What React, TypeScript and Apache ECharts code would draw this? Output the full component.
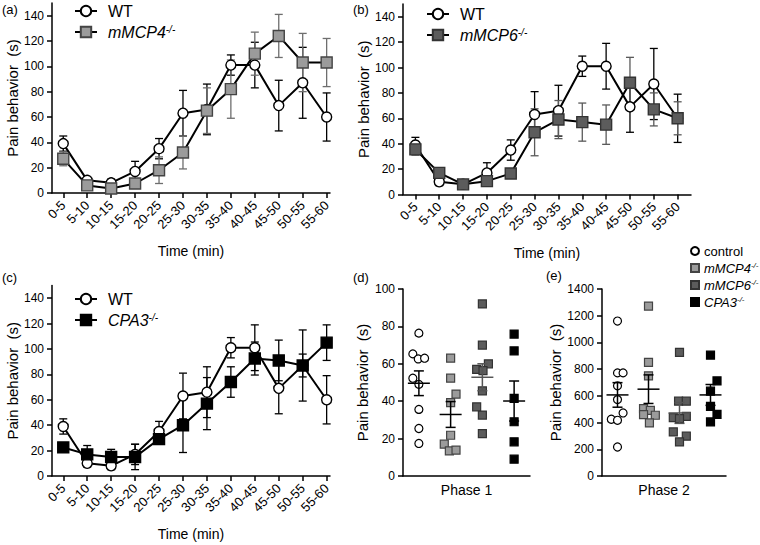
import React, { useEffect, useRef } from "react";
import * as echarts from "echarts";

const FONT = '"Liberation Sans", Arial, Helvetica, sans-serif';

// ---------- time course (panels a, b, c) ----------
const timeLabels = ["0-5", "5-10", "10-15", "15-20", "20-25", "25-30", "30-35", "35-40", "40-45", "45-50", "50-55", "55-60"];
const wtMean = [39, 10, 8, 17, 35, 63, 66, 101, 101, 69, 87, 60];
const wtSem = [6, 3, 3, 8, 8, 18, 20, 8, 18, 20, 28, 19];
const mmcp4Mean = [27, 6, 3.5, 7.5, 18, 32, 65, 82, 110, 124, 103, 103];
const mmcp4Sem = [5.5, 3, 3, 3, 10.5, 13, 18, 23, 17, 17, 23, 19];
const mmcp6Mean = [35.5, 17, 8, 10.5, 16.5, 49, 59, 57, 55, 88, 67, 60];
const mmcp6Sem = [4.5, 3, 2, 2, 2.5, 18.5, 15, 15, 15.5, 20, 13, 13];
const cpa3Mean = [22.5, 17, 15, 15, 29, 40, 57, 74, 92.5, 91, 87, 105];
const cpa3Sem = [3.5, 7, 6, 10, 3, 21.5, 20.5, 12, 13, 16, 9, 14];
const timeYTicks = [0, 20, 40, 60, 80, 100, 120, 140];

// ---------- phase scatter (panels d, e) ----------
const groups = ["control", "mMCP4", "mMCP6", "CPA3"];
const controlP1 = [76.4, 65.3, 62.6, 63, 52.3, 49, 35.6, 25.4, 17.4];
const controlP1Jit = [0, -0.19, -0.02, 0.18, -0.19, 0, 0, 0, 0];
const mmcp4P1 = [63, 52.3, 43.8, 39.2, 21.8, 17, 13.4, 13.8];
const mmcp4P1Jit = [0, 0, 0.17, 0, 0, -0.2, -0.04, 0.17];
const mmcp6P1 = [92, 70, 60, 57, 56.4, 45.5, 37, 32.6, 22.7];
const mmcp6P1Jit = [0, 0, 0.19, -0.18, 0.02, 0, -0.18, 0, 0];
const cpa3P1 = [75.9, 66.9, 41.5, 29, 18.3, 9];
const cpa3P1Jit = [0, 0, 0, 0, 0, 0];
const meanP1 = [49.6, 32.9, 52.8, 40.1];
const semP1 = [6.6, 6.9, 7.2, 10.7];

const controlP2 = [1160, 772, 772, 675, 572, 472, 425, 417, 217];
const controlP2Jit = [0, 0, 0.18, 0, 0, 0.18, -0.2, 0, 0];
const mmcp4P2 = [1272, 850, 750, 505, 492, 460, 455, 397];
const mmcp4P2Jit = [0, 0, 0, -0.16, 0.06, -0.16, 0.22, 0.03];
const mmcp6P2 = [925, 560, 560, 437, 447, 430, 330, 298, 255];
const mmcp6P2Jit = [0, -0.03, 0.22, -0.2, 0.22, 0, -0.2, 0.22, 0];
const cpa3P2 = [905, 712, 635, 522, 462, 405];
const cpa3P2Jit = [0, 0.21, 0, 0, 0.21, 0];
const meanP2 = [607, 650, 472, 607];
const semP2 = [92, 107, 78, 78];

const C_WHITE = "#ffffff";
const C_MCP4 = "#9b9b9b";
const C_MCP6 = "#5c5c5c";
const C_CPA3 = "#000000";

const tickIdx = timeLabels.map((_, i) => i);

function errBars(xi: number, means: number[], sems: number[], color: string, z: number) {
  return {
    type: "custom",
    xAxisIndex: xi,
    yAxisIndex: xi,
    z,
    silent: true,
    encode: { x: 0, y: [1, 2] },
    data: means.map((m, i) => [i, m - sems[i], m + sems[i]]),
    renderItem: (params: any, api: any) => {
      const x = api.value(0);
      const lo = api.coord([x, api.value(1)]);
      const hi = api.coord([x, api.value(2)]);
      const h = 4;
      const style = { stroke: color, lineWidth: 1.3 };
      return {
        type: "group",
        children: [
          { type: "line", shape: { x1: lo[0], y1: lo[1], x2: hi[0], y2: hi[1] }, style },
          { type: "line", shape: { x1: lo[0] - h, y1: lo[1], x2: lo[0] + h, y2: lo[1] }, style },
          { type: "line", shape: { x1: hi[0] - h, y1: hi[1], x2: hi[0] + h, y2: hi[1] }, style },
        ],
      };
    },
  };
}

function lineSeries(name: string, xi: number, means: number[], symbol: string, fill: string, border: string, size: number, z: number) {
  return {
    type: "line",
    name,
    xAxisIndex: xi,
    yAxisIndex: xi,
    z,
    data: means.map((m, i) => [i, m]),
    symbol,
    symbolSize: size,
    showSymbol: true,
    lineStyle: { color: "#000", width: 2 },
    itemStyle: { color: fill, borderColor: border, borderWidth: 1.4 },
    emphasis: { disabled: true },
  };
}

function scatterSeries(name: string, xi: number, g: number, vals: number[], jit: number[], symbol: string, fill: string, border: string) {
  return {
    type: "scatter",
    name,
    xAxisIndex: xi,
    yAxisIndex: xi,
    z: 3,
    data: vals.map((v, i) => [g + jit[i], v]),
    symbol,
    symbolSize: 8,
    itemStyle: { color: fill, borderColor: border, borderWidth: 1.2, opacity: 1 },
    emphasis: { disabled: true },
  };
}

function meanSem(xi: number, means: number[], sems: number[], colors: string[]) {
  return {
    type: "custom",
    xAxisIndex: xi,
    yAxisIndex: xi,
    z: 5,
    silent: true,
    encode: { x: 0, y: [1, 2, 3] },
    data: means.map((m, i) => [i, m, m - sems[i], m + sems[i]]),
    renderItem: (params: any, api: any) => {
      const g = api.value(0);
      const c = colors[params.dataIndex];
      const pm = api.coord([g, api.value(1)]);
      const lo = api.coord([g, api.value(2)]);
      const hi = api.coord([g, api.value(3)]);
      const style = { stroke: c, lineWidth: 1.5 };
      const w = 11;
      const h = 5;
      return {
        type: "group",
        children: [
          { type: "line", shape: { x1: pm[0] - w, y1: pm[1], x2: pm[0] + w, y2: pm[1] }, style },
          { type: "line", shape: { x1: lo[0], y1: lo[1], x2: hi[0], y2: hi[1] }, style },
          { type: "line", shape: { x1: lo[0] - h, y1: lo[1], x2: lo[0] + h, y2: lo[1] }, style },
          { type: "line", shape: { x1: hi[0] - h, y1: hi[1], x2: hi[0] + h, y2: hi[1] }, style },
        ],
      };
    },
  };
}

const axisLine = { show: true, onZero: false, lineStyle: { color: "#000", width: 1.5 } };
const axisTickStyle = { color: "#000", width: 1.5 };
const labelBase = { color: "#000", fontSize: 12, fontFamily: FONT };
const nameStyle = { color: "#000", fontSize: 14, fontWeight: "normal", fontFamily: FONT };
const yNameStyle = { color: "#000", fontSize: 15, fontWeight: "normal", fontFamily: FONT };
const Y_NAME = "Pain behavior  (s)";

function timeX(gi: number, min: number, max: number) {
  return {
    type: "value",
    gridIndex: gi,
    min,
    max,
    axisLine,
    axisTick: { show: true, length: 5, customValues: tickIdx, lineStyle: axisTickStyle },
    axisLabel: {
      ...labelBase,
      fontSize: 13,
      show: true,
      customValues: tickIdx,
      rotate: 45,
      margin: 10,
      formatter: (v: number) => timeLabels[Math.round(v)] ?? "",
    },
    splitLine: { show: false },
    name: "Time (min)",
    nameLocation: "middle",
    nameGap: 51,
    nameTextStyle: nameStyle,
  };
}

function timeY(gi: number) {
  return {
    type: "value",
    gridIndex: gi,
    min: 0,
    max: 150,
    axisLine,
    axisTick: { show: true, length: 5, customValues: timeYTicks, lineStyle: axisTickStyle },
    axisLabel: { ...labelBase, show: true, customValues: timeYTicks, margin: 8 },
    splitLine: { show: false },
    name: Y_NAME,
    nameLocation: "middle",
    nameGap: 32,
    nameTextStyle: yNameStyle,
  };
}

function phaseX(gi: number, name: string) {
  return {
    type: "value",
    gridIndex: gi,
    min: -0.5,
    max: 3.5,
    axisLine,
    axisTick: { show: false },
    axisLabel: { show: false },
    splitLine: { show: false },
    name,
    nameLocation: "middle",
    nameGap: 7,
    nameTextStyle: nameStyle,
  };
}

function phaseY(gi: number, max: number, interval: number, nameGap: number) {
  return {
    type: "value",
    gridIndex: gi,
    min: 0,
    max,
    interval,
    axisLine,
    axisTick: { show: true, length: 5, lineStyle: axisTickStyle },
    axisLabel: { ...labelBase, show: true, margin: 8, formatter: (v: number) => String(v) },
    splitLine: { show: false },
    name: Y_NAME,
    nameLocation: "middle",
    nameGap,
    nameTextStyle: yNameStyle,
  };
}

const legendFmt = (name: string) => {
  if (name === "WT" || name === "control") return name;
  const base = name.replace("-/-", "");
  return `{i|${base}}{s|-/-}`;
};

function lineLegend(names: string[], left: number, top: number) {
  return {
    data: names,
    orient: "vertical",
    left,
    top,
    itemWidth: 22,
    itemHeight: 13,
    itemGap: 5,
    selectedMode: false,
    formatter: legendFmt,
    textStyle: {
      color: "#000",
      fontSize: 16,
      fontFamily: FONT,
      padding: [0, 0, 0, 6],
      rich: {
        i: { fontSize: 16, fontStyle: "italic", fontFamily: FONT, color: "#000" },
        s: { fontSize: 10, fontStyle: "italic", fontFamily: FONT, color: "#000", verticalAlign: "top" },
      },
    },
  };
}

export default function App() {
  const ref = useRef<HTMLDivElement>(null);
  useEffect(() => {
    document.body.style.margin = "0";
    if (!ref.current) return;
    const chart = echarts.init(ref.current, null, { renderer: "svg" });
    const option: any = {
      animation: false,
      backgroundColor: "#ffffff",
      textStyle: { fontFamily: FONT },
      grid: [
        { left: 52, top: 3, width: 278, height: 190, outerBoundsMode: "none", containLabel: false },
        { left: 403, top: 4, width: 288, height: 190.5, outerBoundsMode: "none", containLabel: false },
        { left: 52, top: 285.5, width: 278, height: 190.5, outerBoundsMode: "none", containLabel: false },
        { left: 403, top: 289, width: 127, height: 187, outerBoundsMode: "none", containLabel: false },
        { left: 602, top: 289, width: 124, height: 187, outerBoundsMode: "none", containLabel: false },
      ],
      xAxis: [
        timeX(0, -0.47, 11.14),
        timeX(1, -0.52, 11.56),
        timeX(2, -0.47, 11.14),
        phaseX(3, "Phase 1"),
        phaseX(4, "Phase 2"),
      ],
      yAxis: [timeY(0), timeY(1), timeY(2), phaseY(3, 100, 20, 33), phaseY(4, 1400, 200, 37)],
      legend: [
        lineLegend(["WT", "mMCP4-/-"], 69, -2),
        lineLegend(["WT", "mMCP6-/-"], 421, 1),
        lineLegend(["WT", "CPA3-/-"], 69, 286),
        {
          data: groups,
          orient: "vertical",
          left: 685,
          top: 239,
          itemWidth: 8,
          itemHeight: 8,
          itemGap: 3,
          selectedMode: false,
          formatter: legendFmt,
          textStyle: {
            color: "#000",
            fontSize: 13,
            lineHeight: 14,
            fontFamily: FONT,
            rich: {
              i: { fontSize: 13, fontStyle: "italic", fontFamily: FONT, color: "#000" },
              s: { fontSize: 8, fontStyle: "italic", fontFamily: FONT, color: "#000", verticalAlign: "top" },
            },
          },
        },
      ],
      graphic: [
        { type: "text", x: 2, y: 3, style: { text: "(a)", font: `13px ${FONT}`, fill: "#000" } },
        { type: "text", x: 353, y: 3, style: { text: "(b)", font: `13px ${FONT}`, fill: "#000" } },
        { type: "text", x: 2, y: 271, style: { text: "(c)", font: `13px ${FONT}`, fill: "#000" } },
        { type: "text", x: 353, y: 271, style: { text: "(d)", font: `13px ${FONT}`, fill: "#000" } },
        { type: "text", x: 546, y: 269, style: { text: "(e)", font: `13px ${FONT}`, fill: "#000" } },
      ],
      series: [
        // panel a
        errBars(0, wtMean, wtSem, "#000", 1),
        errBars(0, mmcp4Mean, mmcp4Sem, "#6e6e6e", 1),
        lineSeries("WT", 0, wtMean, "circle", C_WHITE, "#000", 10, 2),
        lineSeries("mMCP4-/-", 0, mmcp4Mean, "rect", C_MCP4, "#444", 11, 3),
        // panel b
        errBars(1, wtMean, wtSem, "#000", 1),
        errBars(1, mmcp6Mean, mmcp6Sem, "#5a5a5a", 1),
        lineSeries("WT", 1, wtMean, "circle", C_WHITE, "#000", 10, 2),
        lineSeries("mMCP6-/-", 1, mmcp6Mean, "rect", C_MCP6, "#333", 11, 3),
        // panel c
        errBars(2, wtMean, wtSem, "#000", 1),
        errBars(2, cpa3Mean, cpa3Sem, "#000", 1),
        lineSeries("WT", 2, wtMean, "circle", C_WHITE, "#000", 10, 2),
        lineSeries("CPA3-/-", 2, cpa3Mean, "rect", C_CPA3, "#000", 11, 3),
        // panel d
        scatterSeries("control", 3, 0, controlP1, controlP1Jit, "circle", C_WHITE, "#000"),
        scatterSeries("mMCP4", 3, 1, mmcp4P1, mmcp4P1Jit, "rect", C_MCP4, "#444"),
        scatterSeries("mMCP6", 3, 2, mmcp6P1, mmcp6P1Jit, "rect", C_MCP6, "#333"),
        scatterSeries("CPA3", 3, 3, cpa3P1, cpa3P1Jit, "rect", C_CPA3, "#000"),
        meanSem(3, meanP1, semP1, ["#000", "#000", "#555", "#000"]),
        // panel e
        scatterSeries("control", 4, 0, controlP2, controlP2Jit, "circle", C_WHITE, "#000"),
        scatterSeries("mMCP4", 4, 1, mmcp4P2, mmcp4P2Jit, "rect", C_MCP4, "#444"),
        scatterSeries("mMCP6", 4, 2, mmcp6P2, mmcp6P2Jit, "rect", C_MCP6, "#333"),
        scatterSeries("CPA3", 4, 3, cpa3P2, cpa3P2Jit, "rect", C_CPA3, "#000"),
        meanSem(4, meanP2, semP2, ["#000", "#000", "#555", "#000"]),
      ],
    };
    chart.setOption(option);
    return () => chart.dispose();
  }, []);
  return <div ref={ref} style={{ width: 760, height: 545 }} />;
}
